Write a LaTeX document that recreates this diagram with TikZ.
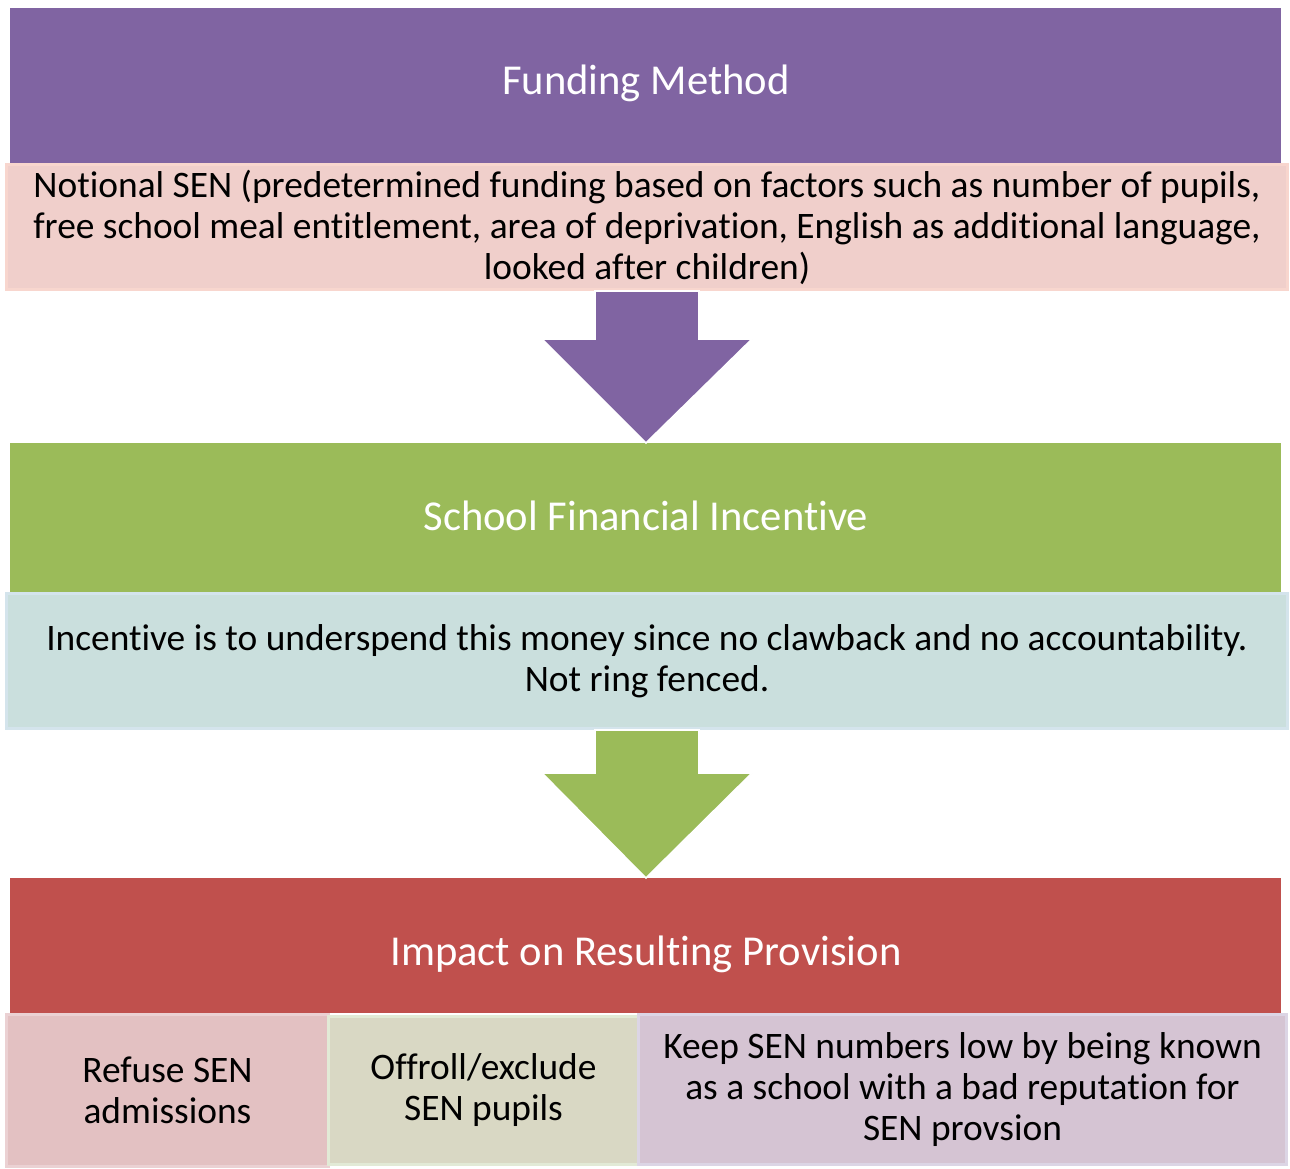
\documentclass[tikz,border=0pt]{standalone}
\usepackage{fontspec}
\setmainfont{Carlito}[Ligatures=NoCommon]
\usetikzlibrary{calc}
\usetikzlibrary{positioning}

\definecolor{methodpurple}{HTML}{8064A2}
\definecolor{incentivegreen}{HTML}{9BBB59}
\definecolor{impactred}{HTML}{C0504D}
\definecolor{notionalfill}{HTML}{F0CFCB}
\definecolor{notionaledge}{HTML}{F8D6CE}
\definecolor{underspendfill}{HTML}{CADFDD}
\definecolor{underspendedge}{HTML}{D4E4EC}
\definecolor{refusefill}{HTML}{E3C1C2}
\definecolor{refuseedge}{HTML}{EBD1D3}
\definecolor{offrollfill}{HTML}{D9D8C4}
\definecolor{offrolledge}{HTML}{E2EAD6}
\definecolor{reputationfill}{HTML}{D5C4D3}
\definecolor{reputationedge}{HTML}{DCD5E5}

\begin{document}
\begin{tikzpicture}
	[x=0.5pt,y=-0.5pt,
	header/.style={fill=#1, anchor=north west, inner sep=0pt, minimum width=635.5pt, text=white, font=\fontsize{21.3}{24}\selectfont},
	textbox/.style={anchor=north west, inner sep=0pt, line width=1.5pt, align=center, text=black, font=\fontsize{18.7}{20.5}\selectfont},
	blockarrow/.style={fill=#1, draw=white, line width=0.8pt}];

	\useasboundingbox (0,0) rectangle (1290,1168);

	%Funding method
	\node[header=methodpurple, minimum height=78.5pt, text height=12pt, text depth=4.5pt] (method) at (10,8) {Funding Method};
	\node[textbox, fill=notionalfill, draw=notionaledge, minimum width=640.5pt, minimum height=62.5pt] (notional) at (5,163)
		{Notional SEN (predetermined funding based on factors such as number of pupils,\\
		free school meal entitlement, area of deprivation, English as additional language,\\
		looked after children)};

	%School incentive
	\node[header=incentivegreen, minimum height=74.5pt, text height=14pt, text depth=1.5pt] (incentive) at (10,443) {School Financial Incentive};
	\node[textbox, fill=underspendfill, draw=underspendedge, minimum width=640.5pt, minimum height=67.5pt] (underspend) at (5,592)
		{Incentive is to underspend this money since no clawback and no accountability.\\
		Not ring fenced.};

	%Impact
	\node[header=impactred, minimum height=67.5pt, text height=19.5pt, text depth=0pt] (impact) at (10,878) {Impact on Resulting Provision};
	\node[textbox, fill=refusefill, draw=refuseedge, minimum width=161pt, minimum height=76pt] (refuse) at (5,1013)
		{Refuse SEN\\admissions};
	\node[textbox, fill=offrollfill, draw=offrolledge, minimum width=155pt, minimum height=74pt] (offroll) at (327,1015)
		{Offroll/exclude\\SEN pupils};
	\node[textbox, fill=reputationfill, draw=reputationedge, minimum width=324pt, minimum height=75pt] (reputation) at (637,1013)
		{Keep SEN numbers low by being known\\as a school with a bad reputation for\\SEN provsion};

	%Arrows
	\draw[blockarrow=methodpurple] ($(notional.south)+(-52,0)$) -- ($(notional.south)+(52,0)$) -- ($(notional.south)+(52,48)$)
		-- ($(notional.south)+(105,48)$) -- ($(incentive.north)+(0,0)$) -- ($(notional.south)+(-105,48)$)
		-- ($(notional.south)+(-52,48)$) -- cycle;
	\draw[blockarrow=incentivegreen] ($(underspend.south)+(-52,0)$) -- ($(underspend.south)+(52,0)$) -- ($(underspend.south)+(52,43)$)
		-- ($(underspend.south)+(105,43)$) -- ($(impact.north)+(0,0)$) -- ($(underspend.south)+(-105,43)$)
		-- ($(underspend.south)+(-52,43)$) -- cycle;
\end{tikzpicture}
\end{document}
